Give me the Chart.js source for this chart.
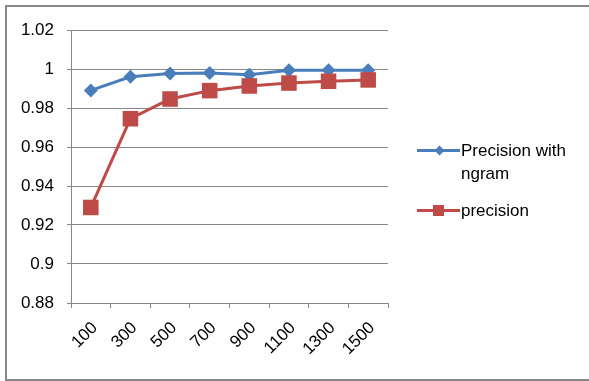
<!DOCTYPE html>
<html>
<head>
<meta charset="utf-8">
<script src="https://cdn.jsdelivr.net/npm/chart.js@4/dist/chart.umd.min.js"></script>
<style>
  html, body { margin: 0; padding: 0; background: #fff; overflow: hidden; }
  #wrap { position: relative; width: 589px; height: 381px; overflow: hidden; background: #fff; }
  .edge { position: absolute; background: #878787; }
  #edgeTop { left: 5px; top: 5px; width: 584px; height: 2px; }
  #edgeLeft { left: 5px; top: 5px; width: 2px; height: 376px; }
  #edgeBottom { left: 5px; top: 379px; width: 584px; height: 2px; }
  #chart { position: absolute; left: 0; top: 0; }
  .item { position: absolute; left: 417px; font-family: "Liberation Sans", Arial, sans-serif; font-size: 17px; line-height: 23px; color: #000; }
  .item .line { position: absolute; left: 0; top: 10px; width: 43px; height: 3px; }
  .item .mark { position: absolute; }
  .item .text { position: absolute; left: 44px; top: 0; white-space: nowrap; }
</style>
</head>
<body>
<div id="wrap">
  <div class="edge" id="edgeTop"></div>
  <div class="edge" id="edgeLeft"></div>
  <div class="edge" id="edgeBottom"></div>
  <canvas id="chart" width="589" height="381"></canvas>
  <div id="legend"></div>
</div>
<script>
// Sample sizes on the x axis
const categories = ['100', '300', '500', '700', '900', '1100', '1300', '1500'];

// Precision measured with n-gram features
const precisionNgram = [0.989, 0.996, 0.9977, 0.998, 0.997, 0.9993, 0.9993, 0.9993];
// Precision without n-gram features
const precisionPlain = [0.929, 0.9745, 0.9846, 0.9889, 0.9913, 0.9928, 0.9937, 0.9944];

// Value axis ticks
const yTickValues = [0.88, 0.9, 0.92, 0.94, 0.96, 0.98, 1, 1.02];
const yTickLabels = ['0.88', '0.9', '0.92', '0.94', '0.96', '0.98', '1', '1.02'];

const seriesNames = ['Precision with\nngram', 'precision'];
const seriesColors = ['#4A7EBB', '#BE4B48'];

const axisGray = '#878787';
const fontFamily = '"Liberation Sans", Arial, sans-serif';

new Chart(document.getElementById('chart'), {
  type: 'line',
  data: {
    labels: categories,
    datasets: [
      {
        label: seriesNames[0],
        data: precisionNgram,
        borderColor: seriesColors[0],
        backgroundColor: seriesColors[0],
        borderWidth: 3,
        pointStyle: 'rectRot',
        pointRadius: 7,
        pointBorderWidth: 0,
        pointBackgroundColor: seriesColors[0],
        tension: 0,
        order: 1
      },
      {
        label: seriesNames[1],
        data: precisionPlain,
        borderColor: seriesColors[1],
        backgroundColor: seriesColors[1],
        borderWidth: 3,
        pointStyle: 'rect',
        pointRadius: 11,
        pointBorderWidth: 0,
        pointBackgroundColor: seriesColors[1],
        tension: 0,
        order: 0
      }
    ]
  },
  options: {
    responsive: false,
    animation: false,
    devicePixelRatio: 1,
    layout: { padding: { top: 30, right: 201, left: 0, bottom: 0 } },
    plugins: { legend: { display: false }, tooltip: { enabled: false } },
    scales: {
      x: {
        offset: true,
        grid: { offset: true, drawOnChartArea: false, drawTicks: true, tickLength: 5, color: axisGray, lineWidth: 1 },
        border: { color: axisGray, width: 1 },
        ticks: {
          minRotation: 45, maxRotation: 45, autoSkip: false, padding: 10, labelOffset: 4,
          color: '#000', font: { family: fontFamily, size: 17 }
        },
        afterFit: (s) => { s.height = 78; }
      },
      y: {
        min: yTickValues[0],
        max: yTickValues[yTickValues.length - 1],
        afterBuildTicks: (s) => { s.ticks = yTickValues.map(v => ({ value: v })); },
        grid: { color: axisGray, lineWidth: 1, drawTicks: true, tickLength: 4 },
        border: { color: axisGray, width: 1 },
        ticks: {
          padding: 13, color: '#000', font: { family: fontFamily, size: 17 },
          callback: (v, i) => yTickLabels[i]
        },
        afterFit: (s) => { s.width = 71; }
      }
    }
  }
});

// Legend on the right, one entry per series
const legendTops = [139, 199];
const legend = document.getElementById('legend');
seriesNames.forEach((name, i) => {
  const item = document.createElement('div');
  item.className = 'item';
  item.style.top = legendTops[i] + 'px';
  const line = document.createElement('div');
  line.className = 'line';
  line.style.background = seriesColors[i];
  const mark = document.createElement('div');
  mark.className = 'mark';
  mark.style.background = seriesColors[i];
  if (i === 0) {
    mark.style.width = '7px'; mark.style.height = '7px';
    mark.style.left = '19px'; mark.style.top = '8px';
    mark.style.transform = 'rotate(45deg)';
  } else {
    mark.style.width = '11px'; mark.style.height = '11px';
    mark.style.left = '16px'; mark.style.top = '6px';
  }
  const text = document.createElement('div');
  text.className = 'text';
  text.innerHTML = name.split('\n').join('<br>');
  item.appendChild(line);
  item.appendChild(mark);
  item.appendChild(text);
  legend.appendChild(item);
});
</script>
</body>
</html>
